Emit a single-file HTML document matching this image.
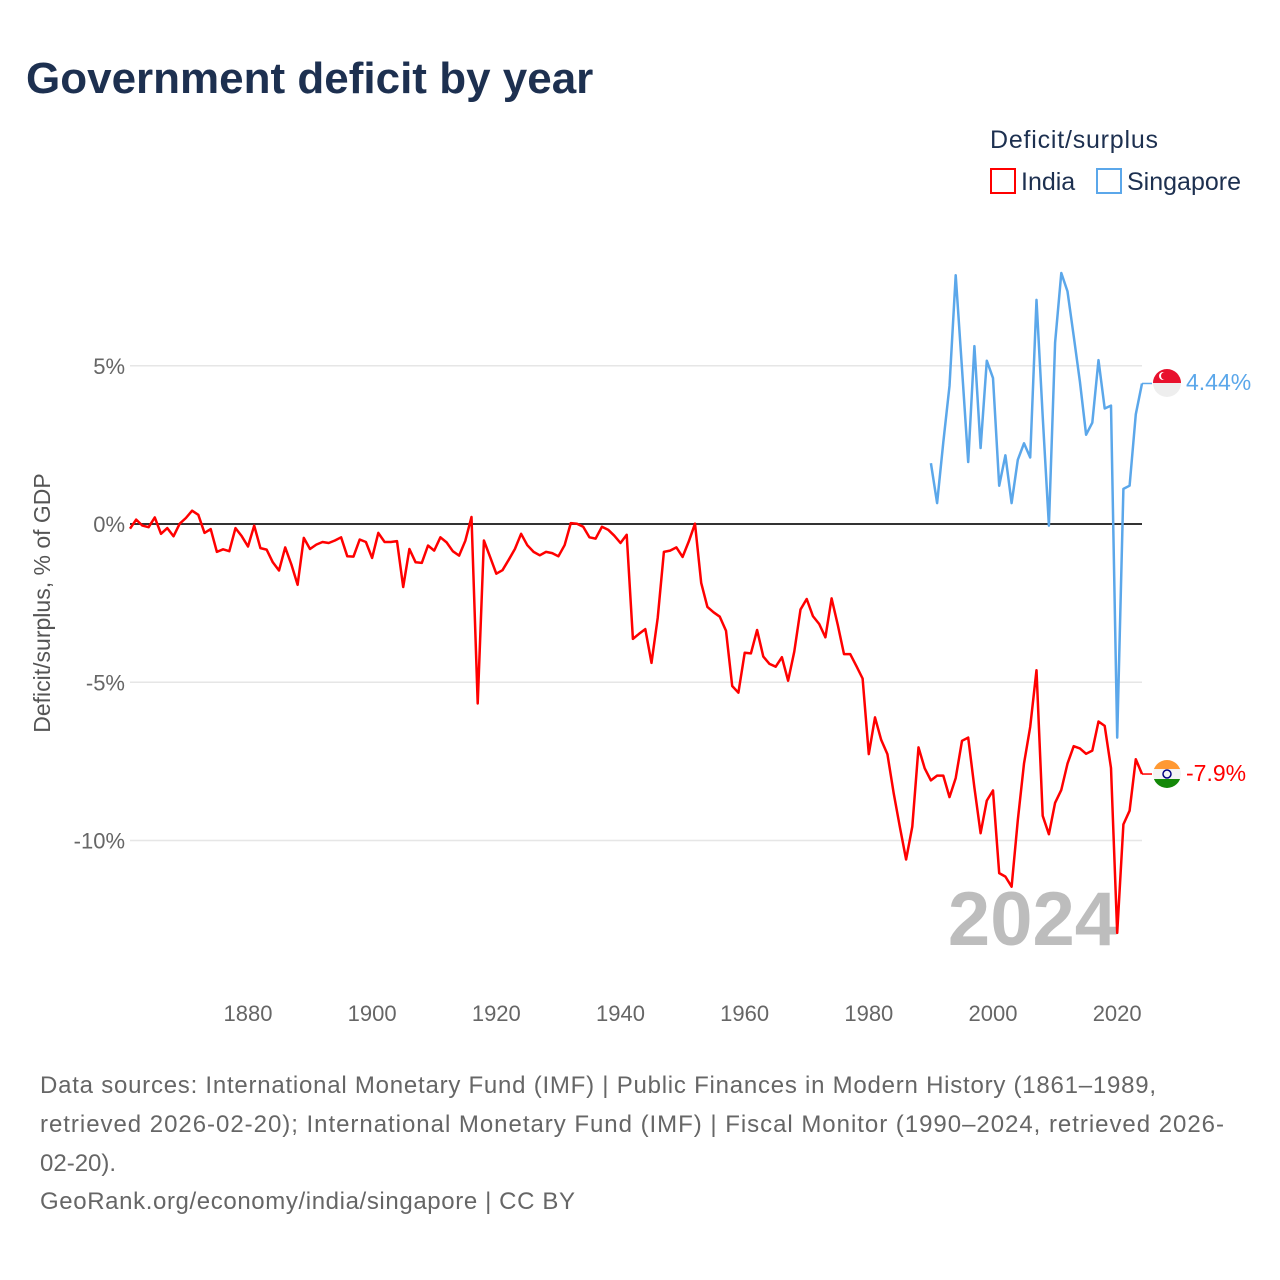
<!DOCTYPE html>
<html><head><meta charset="utf-8"><style>
body{margin:0;background:#fff;width:1280px;height:1280px;overflow:hidden;font-family:"Liberation Sans","DejaVu Sans",sans-serif}
svg{position:absolute;left:0;top:0}
</style></head><body>
<svg id="chart" width="1280" height="1280" xmlns="http://www.w3.org/2000/svg">
<text x="26" y="93" font-size="44" font-weight="bold" fill="#1d3050">Government deficit by year</text>
<text x="990" y="148" font-size="25" fill="#1d3050" textLength="168">Deficit/surplus</text>
<g><rect x="991" y="169" width="24" height="24" fill="none" stroke="#ff0000" stroke-width="2"/><text x="1021" y="190" font-size="25" fill="#1d3050">India</text></g>
<g><rect x="1097" y="169" width="24" height="24" fill="none" stroke="#5ba7ea" stroke-width="2"/><text x="1127" y="190" font-size="25" fill="#1d3050">Singapore</text></g>
<text transform="translate(50,603) rotate(-90)" text-anchor="middle" font-size="23" fill="#555">Deficit/surplus, % of GDP</text>
<g id="grid"></g>
<text x="1117" y="945" text-anchor="end" font-size="76" font-weight="bold" fill="#bdbdbd">2024</text>
<g id="series"></g>
<g><clipPath id="c1"><circle cx="1167" cy="383" r="14"/></clipPath><g clip-path="url(#c1)"><rect x="1150" y="366" width="34" height="17" fill="#e8112d"/><rect x="1150" y="383" width="34" height="17" fill="#eee"/><circle cx="1163" cy="376" r="4" fill="#fff"/><circle cx="1165" cy="376" r="4" fill="#e8112d"/></g></g>
<g><clipPath id="c2"><circle cx="1167" cy="774" r="14"/></clipPath><g clip-path="url(#c2)"><rect x="1150" y="758" width="34" height="11" fill="#ff9933"/><rect x="1150" y="769" width="34" height="10" fill="#f4f4f4"/><rect x="1150" y="779" width="34" height="12" fill="#138808"/><circle cx="1167" cy="774" r="4" fill="none" stroke="#000080" stroke-width="1.5"/></g></g>
<text x="1186" y="390" font-size="23" fill="#5ba7ea">4.44%</text>
<text x="1186" y="781" font-size="23" fill="#ff0000">-7.9%</text>
<text x="40" y="1093" font-size="24" fill="#666" textLength="1116">Data sources: International Monetary Fund (IMF) | Public Finances in Modern History (1861–1989,</text>
<text x="40" y="1132" font-size="24" fill="#666" textLength="1184">retrieved 2026-02-20); International Monetary Fund (IMF) | Fiscal Monitor (1990–2024, retrieved 2026-</text>
<text x="40" y="1171" font-size="24" fill="#666">02-20).</text>
<text x="40" y="1209" font-size="24" fill="#666" textLength="535">GeoRank.org/economy/india/singapore | CC BY</text>
</svg>
<script>
const yTicks=[5,0,-5,-10];
const yTickLabels=["5%","0%","-5%","-10%"];
const xTicks=[1880,1900,1920,1940,1960,1980,2000,2020];
const indiaStart=1861;
const indiaValues=[-0.15,0.14,-0.05,-0.1,0.21,-0.31,-0.13,-0.39,0.01,0.19,0.42,0.29,-0.28,-0.16,-0.88,-0.8,-0.86,-0.13,-0.39,-0.71,-0.05,-0.76,-0.81,-1.21,-1.47,-0.74,-1.28,-1.92,-0.44,-0.79,-0.65,-0.57,-0.6,-0.52,-0.42,-1.02,-1.03,-0.49,-0.57,-1.07,-0.28,-0.57,-0.57,-0.54,-1.99,-0.79,-1.21,-1.23,-0.68,-0.84,-0.42,-0.58,-0.86,-1.0,-0.53,0.22,-5.67,-0.52,-1.04,-1.57,-1.46,-1.13,-0.79,-0.31,-0.67,-0.88,-0.99,-0.88,-0.92,-1.02,-0.67,0.03,0.01,-0.09,-0.42,-0.46,-0.09,-0.18,-0.37,-0.6,-0.34,-3.63,-3.47,-3.32,-4.39,-2.97,-0.88,-0.84,-0.74,-1.04,-0.55,0.01,-1.86,-2.62,-2.79,-2.93,-3.37,-5.12,-5.33,-4.07,-4.09,-3.35,-4.19,-4.42,-4.51,-4.21,-4.95,-4.03,-2.7,-2.37,-2.91,-3.16,-3.58,-2.35,-3.19,-4.11,-4.11,-4.49,-4.88,-7.27,-6.11,-6.82,-7.27,-8.51,-9.58,-10.6,-9.56,-7.06,-7.72,-8.1,-7.95,-7.95,-8.63,-8.03,-6.85,-6.75,-8.33,-9.77,-8.74,-8.42,-11.03,-11.14,-11.46,-9.36,-7.57,-6.41,-4.62,-9.22,-9.8,-8.81,-8.4,-7.57,-7.02,-7.09,-7.26,-7.16,-6.24,-6.38,-7.71,-12.92,-9.49,-9.06,-7.43,-7.9];
const singaporeStart=1990;
const singaporeValues=[1.92,0.66,2.58,4.36,7.86,4.91,1.96,5.62,2.4,5.16,4.61,1.21,2.17,0.66,2.03,2.55,2.1,7.08,3.4,-0.05,5.73,7.93,7.35,5.94,4.5,2.82,3.2,5.18,3.65,3.74,-6.75,1.11,1.21,3.47,4.44];
const NS="http://www.w3.org/2000/svg";
const X0=130,X1=1142,Y0=524,PPU=31.65;
const xs=y=>X0+(y-1861)*(X1-X0)/(2024-1861);
const ys=v=>Y0-v*PPU;
function mk(tag,attrs,parent){const e=document.createElementNS(NS,tag);for(const k in attrs)e.setAttribute(k,attrs[k]);parent.appendChild(e);return e;}
const grid=document.getElementById('grid');
yTicks.forEach((t,i)=>{
  if(t!==0){const l=mk('line',{x1:X0,x2:X1,y1:ys(t),y2:ys(t),stroke:'#e6e6e6','stroke-width':1.5},grid);
  
  }
  const tx=mk('text',{x:125,y:ys(t)+8,'text-anchor':'end','font-size':22,fill:'#666'},grid);
  tx.textContent=yTickLabels[i];
  
  
});
xTicks.forEach(t=>{
  const tx=mk('text',{x:xs(t),y:1021,'text-anchor':'middle','font-size':22,fill:'#666'},grid);
  tx.textContent=t;
  
  
});
const ser=document.getElementById('series');
const zl=mk('line',{x1:X0,x2:X1,y1:ys(0),y2:ys(0),stroke:'#333','stroke-width':2},ser);


function pts(start,vals){return vals.map((v,i)=>xs(start+i).toFixed(1)+','+ys(v).toFixed(1)).join(' ');}
const pi=mk('polyline',{points:pts(indiaStart,indiaValues),fill:'none',stroke:'#ff0000','stroke-width':2.5,'stroke-linejoin':'round'},ser);


const ps=mk('polyline',{points:pts(singaporeStart,singaporeValues),fill:'none',stroke:'#5ba7ea','stroke-width':2.5,'stroke-linejoin':'round'},ser);


const li=indiaValues[indiaValues.length-1], ls=singaporeValues[singaporeValues.length-1];
const c1=mk('line',{x1:X1,x2:1152,y1:ys(li),y2:ys(li),stroke:'#ff0000','stroke-width':1.5},ser);


const c2=mk('line',{x1:X1,x2:1152,y1:ys(ls),y2:ys(ls),stroke:'#5ba7ea','stroke-width':1.5},ser);


</script>
</body></html>
